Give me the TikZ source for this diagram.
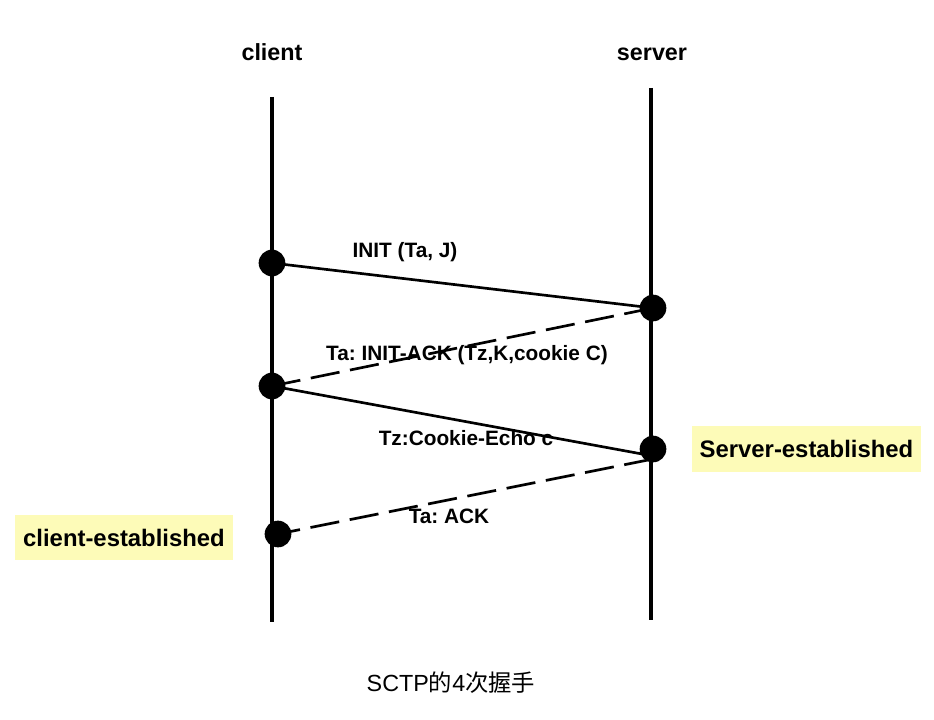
\documentclass[tikz,border=0pt]{standalone}
\usepackage{fontspec}
\setmainfont{Liberation Sans}
\newfontfamily\cjk{Noto Sans CJK SC}
\usetikzlibrary{calc}
\definecolor{hl}{HTML}{FDFBB8}
\frenchspacing
\begin{document}
\begin{tikzpicture}[x=0.75pt,y=-0.75pt,
  lifeline/.style={line width=2.6pt},
  msg/.style={line width=2pt},
  dmsg/.style={line width=2pt,dash pattern=on 22pt off 8pt},
  dot/.style={circle,fill=black,inner sep=0pt,minimum size=20pt},
  head/.style={font=\bfseries\fontsize{17.5}{20}\selectfont,anchor=base},
  lbl/.style={font=\bfseries\fontsize{15.6}{18}\selectfont},
  state/.style={fill=hl,font=\bfseries\fontsize{17.9}{20}\selectfont,minimum height=34pt,inner sep=0pt}]
\useasboundingbox (0,0) rectangle (934,720);
% headers
\node[head] (hc) at (272,61) {client};
\node[head] (hs) at (652,61) {server};
% lifelines
\coordinate (ct) at (272,97);
\coordinate (cb) at (272,622);
\coordinate (st) at (651,88);
\coordinate (sb) at (651,620);
\draw[lifeline] (ct) -- (cb);
\draw[lifeline] (st) -- (sb);
% event points
\coordinate (c1) at (272,263);
\coordinate (s1) at (653,308);
\coordinate (c2) at (272,386);
\coordinate (s2) at (653,449);
\coordinate (c3) at (278,534);
\coordinate (s2a) at (653,456);
\coordinate (s2b) at (653,459);
% messages
\draw[msg] (c1) -- (s1);
\draw[dmsg] (s1) -- (c2);
\draw[msg] (c2) -- (s2a);
\draw[dmsg] (s2b) -- (c3);
% dots
\node[dot] (d1) at (c1) {};
\node[dot] (d2) at (s1) {};
\node[dot] (d3) at (c2) {};
\node[dot] (d4) at (s2) {};
\node[dot] (d5) at (c3) {};
% labels
\node[lbl] (l1) at (405,252) {INIT (Ta, J)};
\node[lbl] (l2) at (467,355) {Ta: INIT-ACK (Tz,K,cookie C)};
\node[lbl] (l3) at (466,438) {Tz:Cookie-Echo c};
\node[lbl] (l4) at (449,516) {Ta: ACK};
% states
\node[state,minimum width=171.75pt] (se) at (806.5,449) {Server-established};
\node[state,minimum width=163.5pt] (ce) at (124,537.5) {client-established};
% title
\node[font=\fontsize{17.5}{20}\selectfont] (title) at (451,683) {SCTP{\cjk 的}4{\cjk 次握手}};
\end{tikzpicture}
\end{document}
